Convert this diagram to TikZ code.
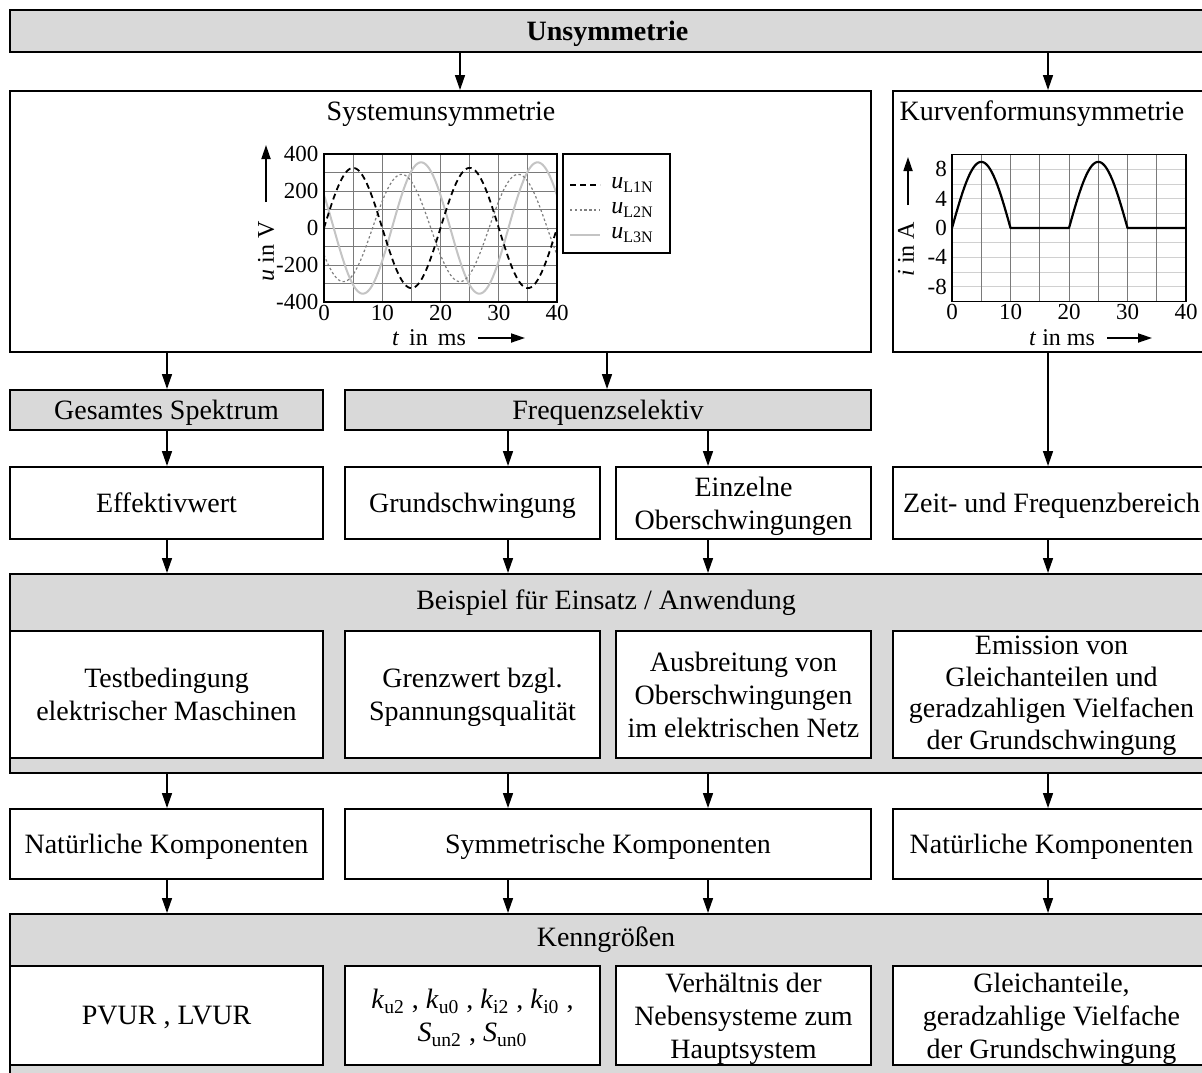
\documentclass[tikz,border=0pt]{standalone}
\usepackage{fontspec}
\setmainfont{Liberation Serif}
\usetikzlibrary{arrows.meta}
\definecolor{boxgray}{HTML}{D9D9D9}
\definecolor{gridgray}{HTML}{7A7A7A}
\definecolor{gridlight}{HTML}{D0D0D0}
\definecolor{phasetwo}{HTML}{808080}
\definecolor{phasethree}{HTML}{C4C4C4}

\tikzset{
  basefont/.style={font=\fontsize{14}{16.5}\selectfont},
  gbox/.style={draw, fill=boxgray, line width=1pt, align=center, basefont, inner ysep=0pt, text depth=0pt},
  wbox/.style={draw, fill=white, line width=1pt, align=center, basefont, inner ysep=0pt, text depth=0pt},
  arr/.style={-{Triangle[length=7.5pt,width=5pt]}, line width=0.75pt},
  axarr/.style={-{Triangle[length=7pt,width=4.5pt]}, line width=0.9pt},
  gridline/.style={draw=gridgray, line width=0.4pt},
  ticklabel/.style={font=\fontsize{11.5}{13}\selectfont, inner sep=1.2pt},
  axlabel/.style={font=\fontsize{12}{14}\selectfont, inner sep=0pt},
  legentry/.style={font=\fontsize{12}{14}\selectfont, anchor=west, inner sep=0pt},
  lone/.style={line width=0.9pt, dash pattern=on 3pt off 2pt},
  ltwo/.style={draw=phasetwo, line width=0.6pt, dash pattern=on 1.2pt off 1.2pt},
  lthree/.style={draw=phasethree, line width=1pt}
}

\begin{document}
\begin{tikzpicture}[x=0.5pt, y=-0.5pt]
\path[use as bounding box, clip] (0,0) rectangle (1202,1072);

% column positions of the connectors
\coordinate (xa) at (167,0);
\coordinate (xb) at (508,0);
\coordinate (xc) at (708,0);
\coordinate (xd) at (1048,0);
\coordinate (xe) at (460,0);
\coordinate (xf) at (607,0);

% header
\node[gbox, minimum width=597.5pt, minimum height=21pt,
      font=\bfseries\fontsize{14}{16.5}\selectfont] (top) at (607.5,31) {Unsymmetrie};

% the two kinds of asymmetry
\node[wbox, minimum width=430.5pt, minimum height=130.5pt] (sys) at (440.5,221.5) {};
\node[basefont] (systitle) at (441,114) {Systemunsymmetrie};
\node[wbox, minimum width=158.5pt, minimum height=130.5pt] (kurv) at (1051.5,221.5) {};
\node[basefont] (kurvtitle) at (1042,114) {Kurvenformunsymmetrie};

% spectrum classification
\node[gbox, minimum width=156.5pt, minimum height=20pt] (ges) at (166.5,410) {Gesamtes Spektrum};
\node[gbox, minimum width=263pt, minimum height=20pt] (freq) at (608,410) {Frequenzselektiv};

% evaluated quantities
\node[wbox, minimum width=156.5pt, minimum height=36pt] (eff) at (166.5,503) {Effektivwert};
\node[wbox, minimum width=127.5pt, minimum height=36pt] (grund) at (472.5,503) {Grundschwingung};
\node[wbox, minimum width=127.5pt, minimum height=36pt] (einz) at (743.5,503) {Einzelne\\Oberschwingungen};
\node[wbox, minimum width=158.5pt, minimum height=36pt] (zeit) at (1051.5,503) {Zeit- und Frequenzbereich};

% applications
\node[gbox, minimum width=600pt, minimum height=99.5pt] (beisp) at (610,673.5) {};
\node[basefont] (beisptext) at (606,603) {Beispiel für Einsatz / Anwendung};
\node[wbox, minimum width=156.5pt, minimum height=63.5pt] (test) at (166.5,694.5) {Testbedingung\\elektrischer Maschinen};
\node[wbox, minimum width=127.5pt, minimum height=63.5pt] (grenz) at (472.5,694.5) {Grenzwert bzgl.\\Spannungsqualität};
\node[wbox, minimum width=127.5pt, minimum height=63.5pt] (ausb) at (743.5,694.5) {Ausbreitung von\\Oberschwingungen\\im elektrischen Netz};
\node[wbox, minimum width=158.5pt, minimum height=63.5pt, text depth=1.8pt,
      font=\fontsize{14}{15.9}\selectfont] (emis) at (1051.5,694.5) {Emission von\\Gleichanteilen und\\geradzahligen Vielfachen\\der Grundschwingung};

% component systems
\node[wbox, minimum width=156.5pt, minimum height=35pt] (nat1) at (166.5,844) {Natürliche Komponenten};
\node[wbox, minimum width=263pt, minimum height=35pt] (sym) at (608,844) {Symmetrische Komponenten};
\node[wbox, minimum width=158.5pt, minimum height=35pt] (nat2) at (1051.5,844) {Natürliche Komponenten};

% characteristic values
\node[gbox, minimum width=600pt, minimum height=83pt] (kenn) at (610,997) {};
\node[basefont] (kenntext) at (606,940) {Kenngrößen};
\node[wbox, minimum width=156.5pt, minimum height=49.5pt] (pvur) at (166.5,1015.5) {PVUR , LVUR};
\node[wbox, minimum width=127.5pt, minimum height=49.5pt] (kfak) at (472.5,1015.5)
  {\textit{k}\textsubscript{u2} , \textit{k}\textsubscript{u0} , \textit{k}\textsubscript{i2} , \textit{k}\textsubscript{i0} ,\\
   \textit{S}\textsubscript{un2} , \textit{S}\textsubscript{un0}};
\node[wbox, minimum width=127.5pt, minimum height=49.5pt] (verh) at (743.5,1015.5) {Verhältnis der\\Nebensysteme zum\\Hauptsystem};
\node[wbox, minimum width=158.5pt, minimum height=49.5pt] (gleich) at (1051.5,1015.5) {Gleichanteile,\\geradzahlige Vielfache\\der Grundschwingung};

% connectors
\draw[arr] (top.south -| xe) -- (sys.north -| xe);
\draw[arr] (top.south -| xd) -- (kurv.north -| xd);
\draw[arr] (sys.south -| xa) -- (ges.north -| xa);
\draw[arr] (sys.south -| xf) -- (freq.north -| xf);
\draw[arr] (kurv.south -| xd) -- (zeit.north -| xd);
\draw[arr] (ges.south -| xa) -- (eff.north -| xa);
\draw[arr] (freq.south -| xb) -- (grund.north -| xb);
\draw[arr] (freq.south -| xc) -- (einz.north -| xc);
\draw[arr] (eff.south -| xa) -- (beisp.north -| xa);
\draw[arr] (grund.south -| xb) -- (beisp.north -| xb);
\draw[arr] (einz.south -| xc) -- (beisp.north -| xc);
\draw[arr] (zeit.south -| xd) -- (beisp.north -| xd);
\draw[arr] (beisp.south -| xa) -- (nat1.north -| xa);
\draw[arr] (beisp.south -| xb) -- (sym.north -| xb);
\draw[arr] (beisp.south -| xc) -- (sym.north -| xc);
\draw[arr] (beisp.south -| xd) -- (nat2.north -| xd);
\draw[arr] (nat1.south -| xa) -- (kenn.north -| xa);
\draw[arr] (sym.south -| xb) -- (kenn.north -| xb);
\draw[arr] (sym.south -| xc) -- (kenn.north -| xc);
\draw[arr] (nat2.south -| xd) -- (kenn.north -| xd);

% three-phase voltages, unbalanced
\begin{scope}[shift={(324,228)}, x=2.9125pt, y=0.0925pt]
  \foreach \tv in {5,10,...,35} \draw[gridline] (\tv,-400) -- (\tv,400);
  \foreach \yv in {-300,-200,...,300} \draw[gridline] (0,\yv) -- (40,\yv);
  \draw[lthree] plot[domain=0:40, samples=161, smooth] (\x,{355*sin(18*\x+150)});
  \draw[ltwo] plot[domain=0:40, samples=161, smooth] (\x,{290*sin(18*\x-150)});
  \draw[lone] plot[domain=0:40, samples=161, smooth] (\x,{325*sin(18*\x)});
  \draw[line width=0.6pt] (0,-400) rectangle (40,400);
  \foreach \yv in {-400,-200,0,200,400} \node[ticklabel, anchor=east] at (-0.5,\yv) {\yv};
  \foreach \tv in {0,10,...,40} \node[ticklabel, anchor=north] at (\tv,-400) {\tv};
\end{scope}
\node[axlabel, rotate=90] (ulab) at (266,251) {\textit{u} in V};
\coordinate (ua) at (266,202);
\coordinate (ub) at (266,145);
\draw[axarr] (ua) -- (ub);
\node[axlabel] (tlab) at (429,338) {\textit{t}\, in\, ms};
\coordinate (ta) at (478,338);
\coordinate (tb) at (525,338);
\draw[axarr] (ta) -- (tb);

% legend
\node[draw, line width=0.6pt, fill=white, minimum width=53.5pt, minimum height=49.5pt] (leg) at (616.5,203.5) {};
\draw[lone] (570,185) -- (600,185);
\draw[ltwo] (570,210) -- (600,210);
\draw[lthree] (570,235) -- (600,235);
\node[legentry] (lg1) at (611,185) {\textit{u}\textsubscript{L1N}};
\node[legentry] (lg2) at (611,210) {\textit{u}\textsubscript{L2N}};
\node[legentry] (lg3) at (611,235) {\textit{u}\textsubscript{L3N}};

% half-wave current
\begin{scope}[shift={(952,228)}, x=2.925pt, y=3.675pt]
  \foreach \yv in {-8,-6,...,8} \draw[draw=gridlight, line width=0.4pt] (0,\yv) -- (40,\yv);
  \foreach \tv in {5,10,...,35} \draw[gridline] (\tv,-10) -- (\tv,10);
  \draw[line width=1.1pt, line join=round]
    plot[domain=0:10, samples=41, smooth] (\x,{9*sin(18*\x)}) -- (20,0)
    -- plot[domain=20:30, samples=41, smooth] (\x,{9*sin(18*(\x-20))}) -- (40,0);
  \draw[line width=0.6pt] (0,-10) rectangle (40,10);
  \foreach \yv in {-8,-4,0,4,8} \node[ticklabel, anchor=east] at (-0.4,\yv) {\yv};
  \foreach \tv in {0,10,...,40} \node[ticklabel, anchor=north] at (\tv,-10) {\tv};
\end{scope}
\node[axlabel, rotate=90, font=\fontsize{12}{14}\selectfont] (ilab) at (906,249) {\textit{i} in A};
\coordinate (ia) at (908,205);
\coordinate (ib) at (908,157);
\draw[axarr] (ia) -- (ib);
\node[axlabel, font=\fontsize{12}{14}\selectfont] (t2lab) at (1062,338) {\textit{t} in ms};
\coordinate (t2a) at (1107,338);
\coordinate (t2b) at (1152,338);
\draw[axarr] (t2a) -- (t2b);
\end{tikzpicture}
\end{document}
